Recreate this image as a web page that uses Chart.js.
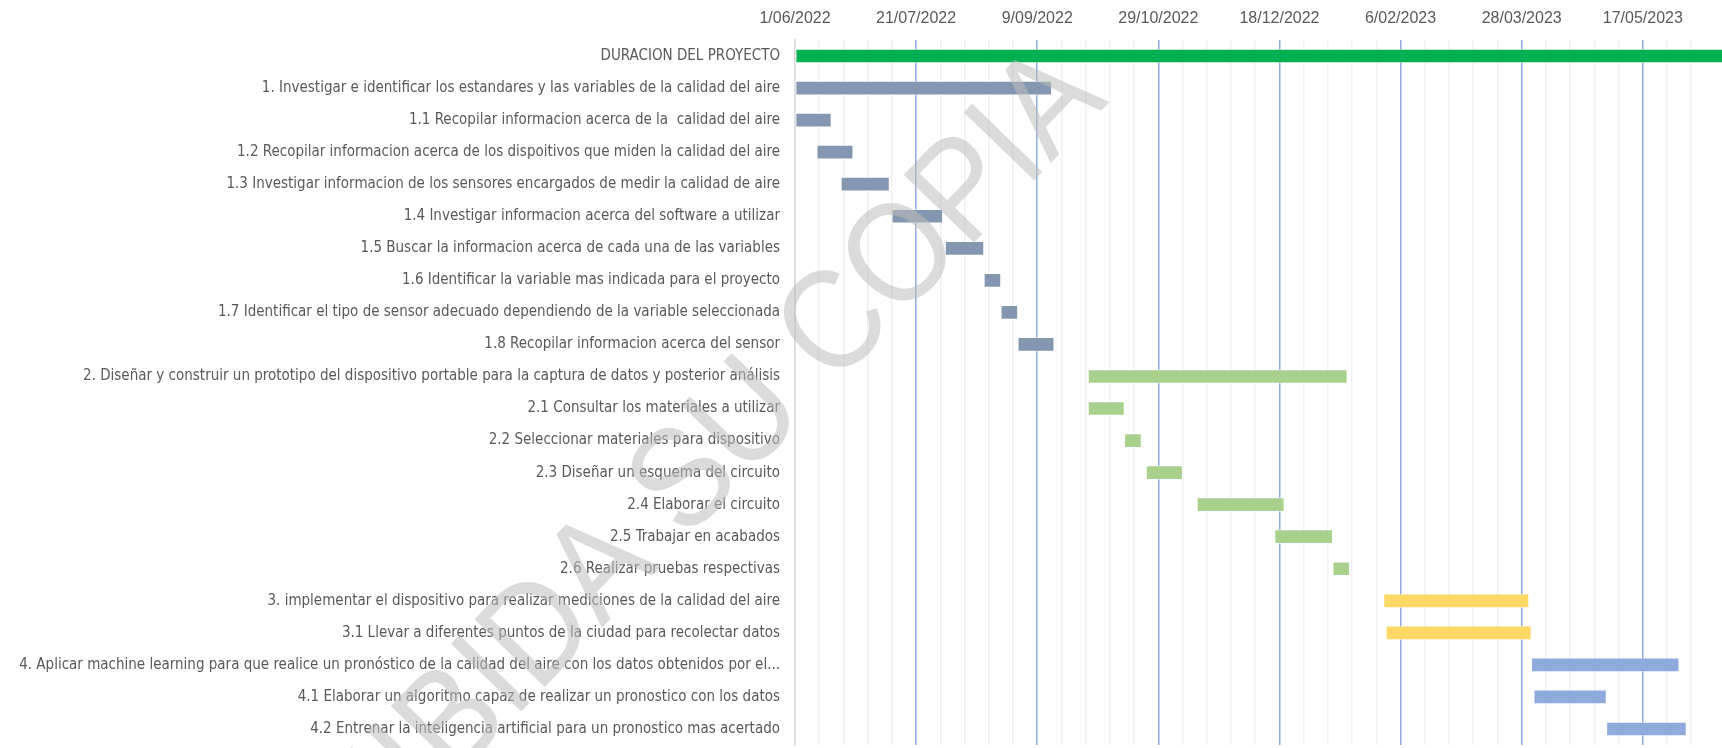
<!DOCTYPE html>
<html>
<head>
<meta charset="utf-8">
<script src="https://cdn.jsdelivr.net/npm/chart.js@4"></script>
<style>
    html, body { margin: 0; padding: 0; background: #ffffff; }
    #wrap { width: 1722px; height: 748px; }
</style>
</head>
<body>
<div id="wrap"><canvas id="gantt"></canvas></div>
<script>
// Tareas del cronograma
const tasks = [
    'DURACION DEL PROYECTO',
    '1. Investigar e identificar los estandares y las variables de la calidad del aire',
    '1.1 Recopilar informacion acerca de la  calidad del aire',
    '1.2 Recopilar informacion acerca de los dispoitivos que miden la calidad del aire',
    '1.3 Investigar informacion de los sensores encargados de medir la calidad de aire',
    '1.4 Investigar informacion acerca del software a utilizar',
    '1.5 Buscar la informacion acerca de cada una de las variables',
    '1.6 Identificar la variable mas indicada para el proyecto',
    '1.7 Identificar el tipo de sensor adecuado dependiendo de la variable seleccionada',
    '1.8 Recopilar informacion acerca del sensor',
    '2. Diseñar y construir un prototipo del dispositivo portable para la captura de datos y posterior análisis',
    '2.1 Consultar los materiales a utilizar',
    '2.2 Seleccionar materiales para dispositivo',
    '2.3 Diseñar un esquema del circuito',
    '2.4 Elaborar el circuito',
    '2.5 Trabajar en acabados',
    '2.6 Realizar pruebas respectivas',
    '3. implementar el dispositivo para realizar mediciones de la calidad del aire',
    '3.1 Llevar a diferentes puntos de la ciudad para recolectar datos',
    '4. Aplicar machine learning para que realice un pronóstico de la calidad del aire con los datos obtenidos por el...',
    '4.1 Elaborar un algoritmo capaz de realizar un pronostico con los datos',
    '4.2 Entrenar la inteligencia artificial para un pronostico mas acertado'
];

// Fecha de inicio de cada tarea
const startDates = [
    '2022-06-01', '2022-06-01', '2022-06-01', '2022-06-10', '2022-06-20',
    '2022-07-11', '2022-08-02', '2022-08-18', '2022-08-25', '2022-09-01',
    '2022-09-30', '2022-09-30', '2022-10-15', '2022-10-24', '2022-11-14',
    '2022-12-16', '2023-01-09', '2023-01-30', '2023-01-31', '2023-04-01',
    '2023-04-02', '2023-05-02'
];

// Duración en días
const durations = [
    395, 106, 15, 15, 20,
    21, 16, 7, 7, 15,
    107, 15, 7, 15, 36,
    24, 7, 60, 60, 61,
    30, 33
];

const barColors = [
    '#00B050',
    '#8497B0', '#8497B0', '#8497B0', '#8497B0', '#8497B0', '#8497B0', '#8497B0', '#8497B0', '#8497B0',
    '#A9D18E', '#A9D18E', '#A9D18E', '#A9D18E', '#A9D18E', '#A9D18E', '#A9D18E',
    '#FFD966', '#FFD966',
    '#8FAADC', '#8FAADC', '#8FAADC'
];

const axisStart = '2022-06-01';
const axisDays = 382.7;   // fin visible del eje
const DAY = 86400000;

function dayOffset(dateStr) {
    return (Date.parse(dateStr) - Date.parse(axisStart)) / DAY;
}

function formatDay(n) {
    const d = new Date(Date.parse(axisStart) + n * DAY);
    const mm = String(d.getUTCMonth() + 1).padStart(2, '0');
    return d.getUTCDate() + '/' + mm + '/' + d.getUTCFullYear();
}

const ranges = startDates.map((s, i) => {
    const a = dayOffset(s);
    return [a, a + durations[i]];
});

// Marca de agua
const watermark = {
    id: 'watermark',
    afterDraw(chart) {
        const ctx = chart.ctx;
        ctx.save();
        ctx.translate(613, 560);
        ctx.rotate(-46 * Math.PI / 180);
        ctx.scale(0.9, 1);
        ctx.font = '142px "Liberation Sans", Arial, sans-serif';
        ctx.fillStyle = 'rgba(190, 190, 190, 0.55)';
        ctx.textAlign = 'center';
        ctx.textBaseline = 'middle';
        ctx.fillText('PROHIBIDA SU COPIA', 0, 0);
        ctx.restore();
    }
};

new Chart(document.getElementById('gantt'), {
    type: 'bar',
    data: {
        labels: tasks,
        datasets: [{
            data: ranges,
            backgroundColor: barColors,
            borderColor: 'rgba(255,255,255,0.45)',
            borderWidth: 1,
            borderSkipped: false,
            barThickness: 14
        }]
    },
    plugins: [watermark],
    options: {
        indexAxis: 'y',
        responsive: true,
        maintainAspectRatio: false,
        animation: false,
        layout: { padding: { top: 0, right: 0, bottom: 3, left: 0 } },
        scales: {
            x: {
                type: 'linear',
                position: 'top',
                min: 0,
                max: axisDays,
                afterFit: (axis) => {
                    axis.height = 40;
                    axis.paddingLeft = 0;
                    axis.paddingRight = 0;
                },
                ticks: {
                    stepSize: 10,
                    autoSkip: false,
                    maxRotation: 0,
                    padding: 12,
                    color: '#595959',
                    font: { family: '"Liberation Sans", Arial, sans-serif', size: 16 },
                    callback: (v) => (v % 50 === 0 ? formatDay(v) : '')
                },
                grid: {
                    drawTicks: false,
                    lineWidth: 1.5,
                    color: (c) => {
                        const v = c.tick ? c.tick.value : 0;
                        if (v === 0) return '#D9D9D9';
                        if (v % 50 === 0) return '#8FAADC';
                        if (v % 10 === 0) return '#F0F0F0';
                        return 'rgba(0,0,0,0)';
                    }
                },
                border: { display: false }
            },
            y: {
                afterFit: (axis) => {
                    axis.width = 795;
                    axis.paddingTop = 0;
                    axis.paddingBottom = 0;
                },
                ticks: {
                    padding: 15,
                    color: '#595959',
                    font: { family: '"Liberation Sans Narrow", "DejaVu Sans Condensed", sans-serif', size: 15 }
                },
                grid: { display: false, drawTicks: false },
                border: { display: true, color: '#D9D9D9', width: 1.5 }
            }
        },
        plugins: {
            legend: { display: false },
            tooltip: { enabled: false }
        }
    }
});
</script>
</body>
</html>
